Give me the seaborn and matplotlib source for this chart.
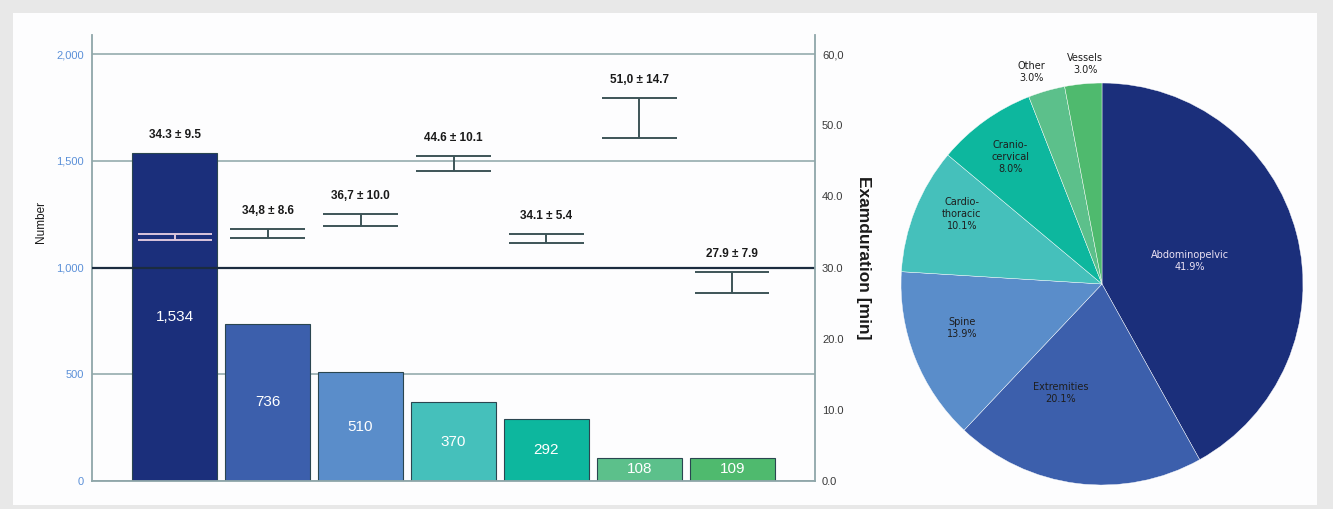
import numpy as np
import pandas as pd
import matplotlib
matplotlib.use("Agg")
import matplotlib.pyplot as plt
import seaborn as sns
from matplotlib.patches import Rectangle

# Examinations per body region, with exam duration (minutes, mean and SD)
regions = ["Abdominopelvic", "Extremities", "Spine", "Cardio-\nthoracic",
           "Cranio-\ncervical", "Other", "Vessels"]
exam_counts = [1534, 736, 510, 370, 292, 108, 109]
duration_mean = [34.3, 34.8, 36.7, 44.6, 34.1, 51.0, 27.9]
duration_sd = [9.5, 8.6, 10.0, 10.1, 5.4, 14.7, 7.9]
decimal_marks = [".", ",", ",", ".", ".", ",", "."]

count_ticks = [0, 500, 1000, 1500, 2000]
count_tick_labels = ["0", "500", "1,000", "1,500", "2,000"]
minute_ticks = [0, 10, 20, 30, 40, 50, 60]
minute_tick_labels = ["0.0", "10.0", "20.0", "30.0", "40.0", "50.0", "60,0"]
reference_minutes = 30.0

palette = ["#1b2f7b", "#3c5fac", "#5a8dca", "#45c0bb", "#0db79e", "#5cc08b", "#4fba6e"]
err_colors = ["#dcc6dc", "#3d5457", "#3d5457", "#3d5457", "#3d5457", "#3d5457", "#3d5457"]
pie_text_colors = ["#ece2f4", "#1e1e1e", "#1e1e1e", "#1e1e1e", "#1e1e1e", "#1e1e1e", "#1e1e1e"]
pie_label_radius = [0.45, 0.58, 0.73, 0.78, 0.78, 1.11, 1.10]
pie_label_shift = [0, -13.5, -4.3, -4.8, 0, 2.4, -1.0]

sns.set_theme(style="white")
plt.rcParams["font.family"] = ["Liberation Sans", "DejaVu Sans"]
narrow = ["DejaVu Sans Condensed", "Liberation Sans Narrow", "Liberation Sans"]

W, H = 1333, 509
fig = plt.figure(figsize=(W / 100, H / 100), dpi=100)
fig.patch.set_facecolor("#e8e8e8")
fig.add_artist(Rectangle((13 / W, 1 - 505 / H), (1317 - 13) / W, (505 - 13) / H,
                         transform=fig.transFigure, facecolor="#fdfdfe",
                         edgecolor="none", zorder=-1))

# ---- bar chart with duration CI overlay ----
count_top = 2089
ax = fig.add_axes([92 / W, 1 - 481 / H, (815 - 92) / W, (481 - 35) / H])
ax.set_facecolor("none")
df = pd.DataFrame({"region": regions, "count": exam_counts})
sns.barplot(data=df, x="region", y="count", hue="region", palette=palette,
            legend=False, width=0.91, edgecolor="#2a4650", linewidth=0.8,
            saturation=1, ax=ax)
ax.set_xlim(-0.89, 6.89)
ax.set_ylim(0, count_top)
ax.set_yticks(count_ticks)
ax.set_yticklabels(count_tick_labels, color="#5b90d8", fontsize=8)
ax.set_xticks([])
ax.set_xlabel("")
ax.set_ylabel("Number", fontsize=8.5, color="#1a1a1a")
ax.yaxis.set_label_coords(-0.062, 0.58)
ax.set_axisbelow(True)
ax.yaxis.grid(True, color="#9db2b4", linewidth=1.3)
ax.tick_params(axis="y", length=0, pad=6)
for side in ["left", "bottom"]:
    ax.spines[side].set_color("#8fa6a9")
    ax.spines[side].set_linewidth(1.3)
for side in ["top", "right"]:
    ax.spines[side].set_visible(False)

for cont in ax.containers:
    ax.bar_label(cont, fmt="{:,.0f}", label_type="center", color="white",
                 fontsize=11, family=narrow)

ax2 = ax.twinx()
ax2.set_ylim(0, 60 * count_top / 2000)
ax2.set_yticks(minute_ticks)
ax2.set_yticklabels(minute_tick_labels, color="#3a3a3a", fontsize=8)
ax2.tick_params(axis="y", length=0, pad=5)
ax2.spines["right"].set_color("#8fa6a9")
ax2.spines["right"].set_linewidth(1.3)
for side in ["top", "left", "bottom"]:
    ax2.spines[side].set_visible(False)
ax2.set_ylabel("Examduration [min]", fontsize=12.5, fontweight="bold",
               color="#1a1a1a", rotation=270, labelpad=20)
ax2.axhline(reference_minutes, color="#1b2c3f", linewidth=1.6, zorder=1)

x = np.arange(len(regions))
mean = np.array(duration_mean)
half = 1.96 * np.array(duration_sd) / np.sqrt(np.array(exam_counts))
lo, hi = mean - half, mean + half
ax2.vlines(x, lo, hi, colors=err_colors, linewidth=1.4, zorder=3)
ax2.hlines(lo, x - 0.4, x + 0.4, colors=err_colors, linewidth=1.4, zorder=3)
ax2.hlines(hi, x - 0.4, x + 0.4, colors=err_colors, linewidth=1.4, zorder=3)

bar_top_min = np.array(exam_counts) * 60 / 2000
for xi, m, s, sep, top in zip(x, duration_mean, duration_sd, decimal_marks,
                              np.maximum(hi, bar_top_min)):
    txt = f"{m:.1f}".replace(".", sep) + f" \u00b1 {s:.1f}"
    ax2.annotate(txt, (xi, top), xytext=(0, 13), textcoords="offset points",
                 ha="center", va="center", fontsize=8.5, fontweight="bold",
                 color="#1a1a1a", family=narrow)

# ---- share of examinations by region ----
cx, cy, r = 1102, 284, 201
pax = fig.add_axes([(cx - r) / W, 1 - (cy + r) / H, 2 * r / W, 2 * r / H])
wedges, _ = pax.pie(exam_counts, colors=palette, startangle=90,
                    counterclock=False, radius=1,
                    wedgeprops=dict(edgecolor="white", linewidth=0.3))
pax.set_xlim(-1, 1)
pax.set_ylim(-1, 1)
pax.set_aspect("equal")
total = sum(exam_counts)
for w, name, n, rad, shift, col in zip(wedges, regions, exam_counts,
                                       pie_label_radius, pie_label_shift,
                                       pie_text_colors):
    ang = np.deg2rad((w.theta1 + w.theta2) / 2 + shift)
    pax.text(rad * np.cos(ang), rad * np.sin(ang),
             f"{name}\n{n / total * 100:.1f}%", ha="center", va="center",
             fontsize=7, color=col, family=["DejaVu Sans"], linespacing=1.25)

fig.savefig("out.png", dpi=100, facecolor=fig.get_facecolor())
